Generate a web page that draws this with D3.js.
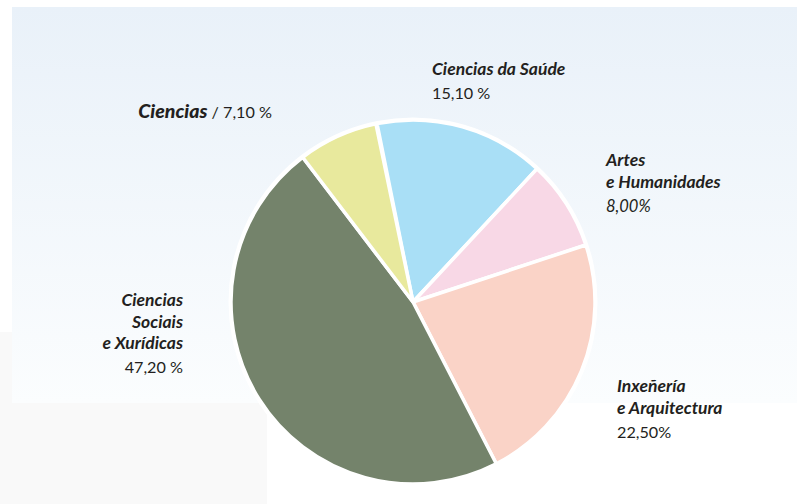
<!DOCTYPE html>
<html>
<head>
<meta charset="utf-8">
<script src="https://cdn.jsdelivr.net/npm/d3@7"></script>
<style>
  body { margin: 0; background: #fff; }
  svg text { font-family: Lato, "Open Sans", sans-serif; fill: #231f20; }
  .name { font-weight: 700; font-style: italic; }
  .val { font-weight: 400; }
</style>
</head>
<body>
<div id="chart"></div>
<script>
// Data
var categories = ['Ciencias da Saúde', 'Artes e Humanidades', 'Inxeñería e Arquitectura', 'Ciencias Sociais e Xurídicas', 'Ciencias'];
var values = [15.1, 8.0, 22.5, 47.2, 7.1];
var valueLabels = ['15,10 %', '8,00%', '22,50%', '47,20 %', '7,10 %'];
var colors = ['#a9dff6', '#f8d8e6', '#fad3c7', '#74836b', '#e8e99d'];

var width = 797, height = 504;

var svg = d3.select('#chart').append('svg')
  .attr('width', width)
  .attr('height', height);

// background panels
var defs = svg.append('defs');
var grad = defs.append('linearGradient').attr('id', 'bg')
  .attr('x1', 0).attr('y1', 0).attr('x2', 0).attr('y2', 1);
grad.append('stop').attr('offset', '0%').attr('stop-color', '#e9f1f9');
grad.append('stop').attr('offset', '100%').attr('stop-color', '#fbfdfe');

svg.append('rect').attr('x', 0).attr('y', 332).attr('width', 267).attr('height', 172).attr('fill', '#f9f9f9');
svg.append('rect').attr('x', 12).attr('y', 7).attr('width', 785).attr('height', 396).attr('fill', 'url(#bg)');

// pie
var cx = 413, cy = 302, r = 182;
var startA = -11.4 * Math.PI / 180;

var pie = d3.pie().sort(null).value(function(d) { return d; })
  .startAngle(startA).endAngle(startA + 2 * Math.PI * d3.sum(values) / 100);

var arc = d3.arc().innerRadius(0).outerRadius(r);

var g = svg.append('g').attr('transform', 'translate(' + cx + ',' + cy + ')');

g.append('circle').attr('r', r + 2.5).attr('fill', '#fff');

g.selectAll('path')
  .data(pie(values))
  .enter()
  .append('path')
  .attr('d', arc)
  .attr('fill', function(d, i) { return colors[i]; })
  .attr('stroke', '#fff')
  .attr('stroke-width', 3.5)
  .attr('stroke-linejoin', 'round');

// labels
var fs = 17.5, fv = 16.2;

function block(x, y, anchor, lines, valIdx, italicVal) {
  var t = svg.append('g');
  lines.forEach(function(l, k) {
    t.append('text').attr('class', 'name')
      .attr('x', x).attr('y', y + k * 21.5)
      .attr('text-anchor', anchor)
      .style('font-size', fs + 'px')
      .text(l);
  });
  t.append('text').attr('class', 'val')
    .attr('x', x).attr('y', y + lines.length * 21.5 + 2.5)
    .attr('text-anchor', anchor)
    .style('font-size', (italicVal ? 16.5 : fv) + 'px')
    .style('font-style', italicVal ? 'italic' : 'normal')
    .text(valueLabels[valIdx]);
}

block(432, 75, 'start', ['Ciencias da Saúde'], 0, false);
block(606, 166, 'start', ['Artes', 'e Humanidades'], 1, true);
block(617, 392, 'start', ['Inxeñería', 'e Arquitectura'], 2, false);
block(183, 306, 'end', ['Ciencias', 'Sociais', 'e Xurídicas'], 3, false);

// Ciencias / 7,10 %
var c = svg.append('text').attr('x', 272).attr('y', 118).attr('text-anchor', 'end');
c.append('tspan').attr('class', 'name').style('font-size', '19.5px').style('font-weight', 900).text('Ciencias');
c.append('tspan').attr('class', 'val').style('font-size', fv + 'px').text(' / ' + valueLabels[4]);
</script>
</body>
</html>
